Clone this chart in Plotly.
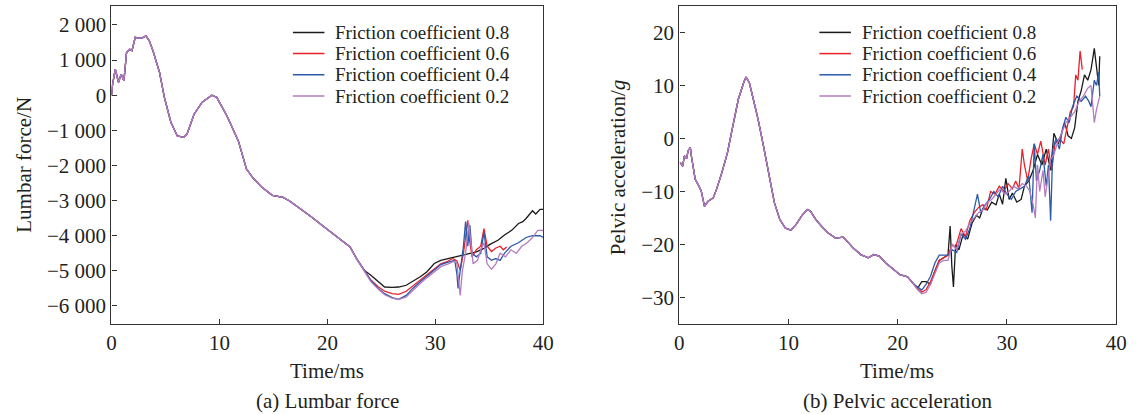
import plotly.graph_objects as go

W, H = 1137, 414
FONT = "Liberation Serif, Times New Roman, serif"
TXT = "#231f20"

series_names = ["Friction coefficient 0.8", "Friction coefficient 0.6",
                "Friction coefficient 0.4", "Friction coefficient 0.2"]
series_colors = ["#1a1a1a", "#e8212b", "#2b5aa8", "#b47cc0"]

# ---------------- (a) Lumbar force ----------------
t_common_L = [0, 0.1, 0.35, 0.65, 0.9, 1.15, 1.4, 1.7, 1.9, 2.2, 2.6, 2.9, 3.2, 3.5,
              3.85, 4.45, 4.9, 5.5, 6.1, 6.7, 7.0, 7.65, 8.4, 9.3, 9.75, 10.7, 11.75,
              12.5, 13.1, 13.9, 14.9, 15.9, 16.5, 17.5, 18.5, 19.5, 20.5, 21.4, 22.1,
              22.7, 23.4]
F_common = [0, 300, 740, 370, 600, 410, 1220, 1310, 1270, 1650, 1620, 1640, 1690, 1550,
            1260, 650, -60, -770, -1160, -1200, -1100, -540, -200, 0, -60, -590, -1300,
            -2100, -2350, -2610, -2850, -2910, -3010, -3230, -3460, -3700, -3940, -4130,
            -4320, -4650, -4980]

t_L08 = [24.0, 24.7, 25.3, 26.0, 26.6, 27.3, 27.9, 28.6, 29.2, 29.9, 30.5, 31.2, 31.9,
         32.5, 33.2, 33.8, 34.5, 35.1, 35.8, 36.4, 37.1, 37.7, 38.1, 38.4, 39.0, 39.3,
         39.7, 40.0]
F_L08 = [-5120, -5310, -5460, -5470, -5460, -5410, -5310, -5170, -5030, -4790, -4700,
         -4650, -4600, -4550, -4510, -4460, -4360, -4240, -4130, -3980, -3840, -3650,
         -3600, -3510, -3290, -3380, -3250, -3250]

t_L06 = [24.0, 24.7, 25.3, 26.0, 26.6, 27.3, 27.9, 28.6, 29.2, 29.9, 30.5, 31.2, 31.6,
         32.0, 32.3, 32.6, 33.0, 33.2, 33.4, 33.8, 34.2, 34.5, 34.8, 35.2, 35.6, 36.0,
         36.3, 36.6]
F_L06 = [-5250, -5450, -5580, -5650, -5670, -5580, -5430, -5270, -5120, -4950, -4800,
         -4720, -4650, -4720, -4980, -4500, -3560, -4200, -4600, -4400, -4300, -3800,
         -4300, -4450, -4350, -4300, -4400, -4320]

t_L04 = [24.0, 24.7, 25.3, 26.0, 26.6, 27.3, 27.9, 28.6, 29.2, 29.9, 30.5, 31.2, 31.8,
         32.0, 32.1, 32.3, 32.6, 32.8, 33.0, 33.2, 33.4, 33.8, 34.2, 34.5, 34.8, 35.2,
         35.6, 36.0, 36.4, 37.0, 37.7, 38.4, 39.0, 39.7, 40.0]
F_L04 = [-5260, -5500, -5650, -5760, -5810, -5700, -5500, -5310, -5150, -4980, -4820,
         -4750, -4700, -5100, -5500, -5000, -4300, -3600, -4300, -3700, -4500, -4600,
         -4500, -3900, -4600, -4700, -4650, -4700, -4500, -4300, -4200, -4050, -4000,
         -4000, -4050]

t_L02 = [24.0, 24.7, 25.3, 26.0, 26.6, 27.3, 27.9, 28.6, 29.2, 29.9, 30.5, 31.2, 31.8,
         32.0, 32.3, 32.5, 32.8, 33.1, 33.3, 33.5, 33.9, 34.2, 34.5, 34.8, 35.2, 35.6,
         36.0, 36.5, 37.0, 37.5, 38.0, 38.5, 39.0, 39.5, 40.0]
F_L02 = [-5300, -5520, -5680, -5780, -5820, -5740, -5560, -5360, -5200, -5020, -4880,
         -4800, -4720, -4800, -5700, -5000, -4500, -3650, -4200, -4800, -4700, -4400,
         -4200, -4800, -4950, -4800, -4500, -4600, -4400, -4500, -4300, -4200, -4050,
         -3850, -3850]

# ---------------- (b) Pelvic acceleration ----------------
t_common_R = [0.07, 0.3, 0.46, 0.66, 0.8, 1.0, 1.1, 1.45, 1.8, 2.0, 2.3, 2.6, 3.1, 3.4,
              3.9, 4.4, 4.9, 5.4, 5.9, 6.1, 6.4, 6.7, 7.2, 7.7, 8.2, 8.7, 9.2, 9.7, 10.2,
              10.7, 11.2, 11.7, 12.0, 12.5, 13.0, 13.6, 14.3, 15.0, 15.5, 15.9, 16.6,
              17.3, 17.8, 18.3, 18.9, 19.6, 20.2, 20.9, 21.4]
a_common = [-4.5, -5.2, -3.3, -3.8, -2.3, -1.7, -3.3, -7.7, -9.0, -9.9, -12.8, -11.9,
            -11.2, -9.6, -6.4, -2.7, 2.4, 7.4, 10.6, 11.6, 10.6, 8.1, 3.7, -1.4, -7.1,
            -12.1, -15.3, -16.9, -17.3, -16.2, -14.6, -13.4, -13.7, -15.3, -16.5, -17.8,
            -18.8, -18.6, -19.7, -20.6, -21.9, -22.5, -21.9, -22.2, -23.5, -24.7, -25.7,
            -26.1, -27.3]

t_R08 = [21.8, 22.2, 22.6, 23.0, 23.4, 23.8, 24.2, 24.6, 24.8, 24.95, 25.1, 25.3, 25.6,
         26.0, 26.4, 26.8, 27.2, 27.5, 27.8, 28.2, 28.6, 29.0, 29.3, 29.6, 29.9, 30.2,
         30.5, 30.9, 31.3, 31.6, 32.0, 32.4, 32.8, 33.2, 33.6, 34.0, 34.3, 34.7, 35.0,
         35.3, 35.6, 35.9, 36.2, 36.5, 36.8, 37.1, 37.4, 37.7, 38.0, 38.2, 38.4, 38.5]
a_R08 = [-28.3, -27.0, -27.0, -27.5, -25.0, -23.0, -22.5, -22.0, -16.5, -24.0, -28.0,
         -20.0, -21.0, -18.0, -19.0, -16.0, -14.5, -15.0, -13.2, -13.5, -12.0, -12.5,
         -10.5, -12.4, -7.5, -11.5, -10.3, -12.0, -11.5, -9.0, -8.0, -6.0, -3.0, -5.0,
         -2.0, -6.0, 1.0, -1.0, 1.0, 3.0, 0.5, 0.0, 2.0, 7.0, 9.0, 12.0, 11.0, 13.0,
         17.0, 14.0, 10.0, 15.5]

t_R06 = [21.8, 22.2, 22.6, 23.0, 23.4, 23.8, 24.2, 24.6, 25.0, 25.3, 25.8, 26.2, 26.6,
         27.0, 27.4, 27.8, 28.1, 28.5, 28.9, 29.3, 29.7, 30.1, 30.5, 30.8, 31.1, 31.4,
         31.6, 31.9, 32.2, 32.5, 32.8, 33.1, 33.5, 33.8, 34.1, 34.4, 34.8, 35.2, 35.5,
         35.8, 36.1, 36.3, 36.5, 36.7, 36.9]
a_R06 = [-28.3, -29.0, -28.5, -27.0, -25.0, -23.0, -22.5, -22.0, -20.0, -20.5, -17.0,
         -18.5, -15.5, -14.0, -13.0, -12.5, -13.5, -10.0, -10.5, -9.0, -10.0, -8.5, -9.5,
         -8.0, -9.5, -2.0, -5.0, -8.0, -4.0, -1.0, -3.0, -0.5, -5.0, -2.0, -6.0, -1.0,
         0.0, -1.0, 2.0, 5.0, 6.0, 12.0, 11.0, 16.5, 13.0]

t_R04 = [21.8, 22.2, 22.6, 23.0, 23.4, 23.8, 24.2, 24.6, 25.0, 25.4, 25.8, 26.2, 26.6,
         27.0, 27.3, 27.6, 28.0, 28.4, 28.8, 29.2, 29.6, 30.0, 30.4, 30.8, 31.2, 31.6,
         32.0, 32.3, 32.5, 32.7, 33.0, 33.3, 33.6, 33.8, 34.0, 34.2, 34.5, 34.8, 35.1,
         35.4, 35.7, 36.0, 36.4, 36.8, 37.2, 37.5, 37.7, 38.0, 38.2, 38.4, 38.5]
a_R04 = [-28.0, -28.6, -27.5, -26.0, -23.5, -22.0, -22.0, -22.0, -21.0, -21.5, -18.0,
         -19.0, -17.0, -13.0, -10.5, -14.0, -12.5, -11.5, -10.0, -11.0, -9.0, -10.5,
         -11.5, -10.0, -9.5, -9.0, -7.0, -14.0, -1.0, -8.0, -6.0, -3.0, -9.0, -5.0,
         -15.5, -2.0, 0.0, -2.0, 2.0, 4.0, 3.0, 6.0, 8.0, 7.0, 8.0, 7.0, 6.0, 11.0,
         10.0, 12.5, 8.0]

t_R02 = [21.8, 22.2, 22.6, 23.0, 23.4, 23.8, 24.2, 24.6, 25.0, 25.4, 25.8, 26.2, 26.6,
         27.0, 27.4, 27.8, 28.2, 28.6, 29.0, 29.4, 29.8, 30.2, 30.6, 31.0, 31.4, 31.8,
         32.1, 32.4, 32.6, 32.8, 33.0, 33.3, 33.5, 33.8, 34.0, 34.3, 34.6, 35.0, 35.4,
         35.8, 36.2, 36.6, 37.0, 37.4, 37.7, 38.0, 38.2, 38.5]
a_R02 = [-28.5, -29.3, -29.0, -27.5, -25.5, -23.5, -23.0, -23.0, -20.0, -21.0, -18.0,
         -17.5, -16.0, -15.0, -14.0, -13.5, -12.0, -11.5, -10.5, -9.5, -10.5, -10.0,
         -9.0, -9.5, -8.5, -9.0, -10.0, -12.5, -15.0, -5.0, -10.0, -6.0, -11.0, -7.0,
         -4.0, -3.0, -1.0, 1.0, 3.0, 4.0, 5.0, 7.0, 8.0, 9.5, 10.0, 3.0, 5.5, 8.0]

yL_vals = [-6000, -5000, -4000, -3000, -2000, -1000, 0, 1000, 2000]
yL_text = ["\u22126 000", "\u22125 000", "\u22124 000", "\u22123 000", "\u22122 000",
           "\u22121 000", "0", "1 000", "2 000"]
yR_vals = [-30, -20, -10, 0, 10, 20]
yR_text = ["\u221230", "\u221220", "\u221210", "0", "10", "20"]
x_vals = [0, 10, 20, 30, 40]
x_text = ["0", "10", "20", "30", "40"]

tails_L = [(t_L08, F_L08), (t_L06, F_L06), (t_L04, F_L04), (t_L02, F_L02)]
tails_R = [(t_R08, a_R08), (t_R06, a_R06), (t_R04, a_R04), (t_R02, a_R02)]

fig = go.Figure()
for i in range(4):
    tl, fl = tails_L[i]
    fig.add_trace(go.Scatter(x=t_common_L + tl, y=F_common + fl, mode="lines",
                             name=series_names[i], line=dict(color=series_colors[i], width=1.3),
                             xaxis="x", yaxis="y", showlegend=False))
for i in range(4):
    tr, ar = tails_R[i]
    fig.add_trace(go.Scatter(x=t_common_R + tr, y=a_common + ar, mode="lines",
                             name=series_names[i], line=dict(color=series_colors[i], width=1.3),
                             xaxis="x2", yaxis="y2", showlegend=False))

def px(x):
    return x / W

def py(y):
    return 1 - y / H

axis_common = dict(showline=True, mirror=True, linecolor="#333333", linewidth=1.3,
                   ticks="inside", ticklen=5, tickwidth=1.2, tickcolor="#333333",
                   showgrid=False, zeroline=False,
                   tickfont=dict(family=FONT, size=21, color=TXT))

fig.update_layout(
    width=W, height=H, margin=dict(l=0, r=0, t=0, b=0),
    paper_bgcolor="white", plot_bgcolor="white",
    xaxis=dict(domain=[px(108), px(546)], range=[0, 40], tickvals=x_vals, ticktext=x_text,
               anchor="y", **axis_common),
    yaxis=dict(domain=[py(324), py(6)], range=[-6513, 2540], tickvals=yL_vals,
               ticktext=yL_text, anchor="x", **axis_common),
    xaxis2=dict(domain=[px(684), px(1127)], range=[0, 40], tickvals=x_vals, ticktext=x_text,
                anchor="y2", **axis_common),
    yaxis2=dict(domain=[py(324), py(6)], range=[-35, 25], tickvals=yR_vals,
                ticktext=yR_text, anchor="x2", **axis_common),
)

annotations = []
shapes = []

def txt(x, y, s, angle=0, xanchor="center", size=21):
    annotations.append(dict(x=px(x), y=py(y), xref="paper", yref="paper", text=s,
                            showarrow=False, xanchor=xanchor, yanchor="middle",
                            textangle=angle, borderpad=0,
                            font=dict(family=FONT, size=size, color=TXT)))

txt(327, 371, "Time/ms")
txt(327, 401, "(a) Lumbar force")
txt(905, 371, "Time/ms")
txt(905, 401, "(b) Pelvic acceleration")
txt(19, 165, "Lumbar force/N", angle=-90)
txt(622, 167, "Pelvic acceleration/<i>g</i>", angle=-90)

rows = [32.4, 53.6, 74.8, 96.0]
for (lx0, lx1, tx) in [(292, 324, 334), (826, 858, 868)]:
    for i, ry in enumerate(rows):
        shapes.append(dict(type="line", xref="paper", yref="paper",
                           x0=px(lx0), x1=px(lx1), y0=py(ry), y1=py(ry),
                           line=dict(color=series_colors[i], width=1.5)))
        txt(tx, ry, series_names[i], xanchor="left", size=19)

fig.update_layout(annotations=annotations, shapes=shapes)
fig.write_html("out.html", config={"displayModeBar": False},
               post_script="document.body.style.margin='0px';document.body.style.padding='0px';")
